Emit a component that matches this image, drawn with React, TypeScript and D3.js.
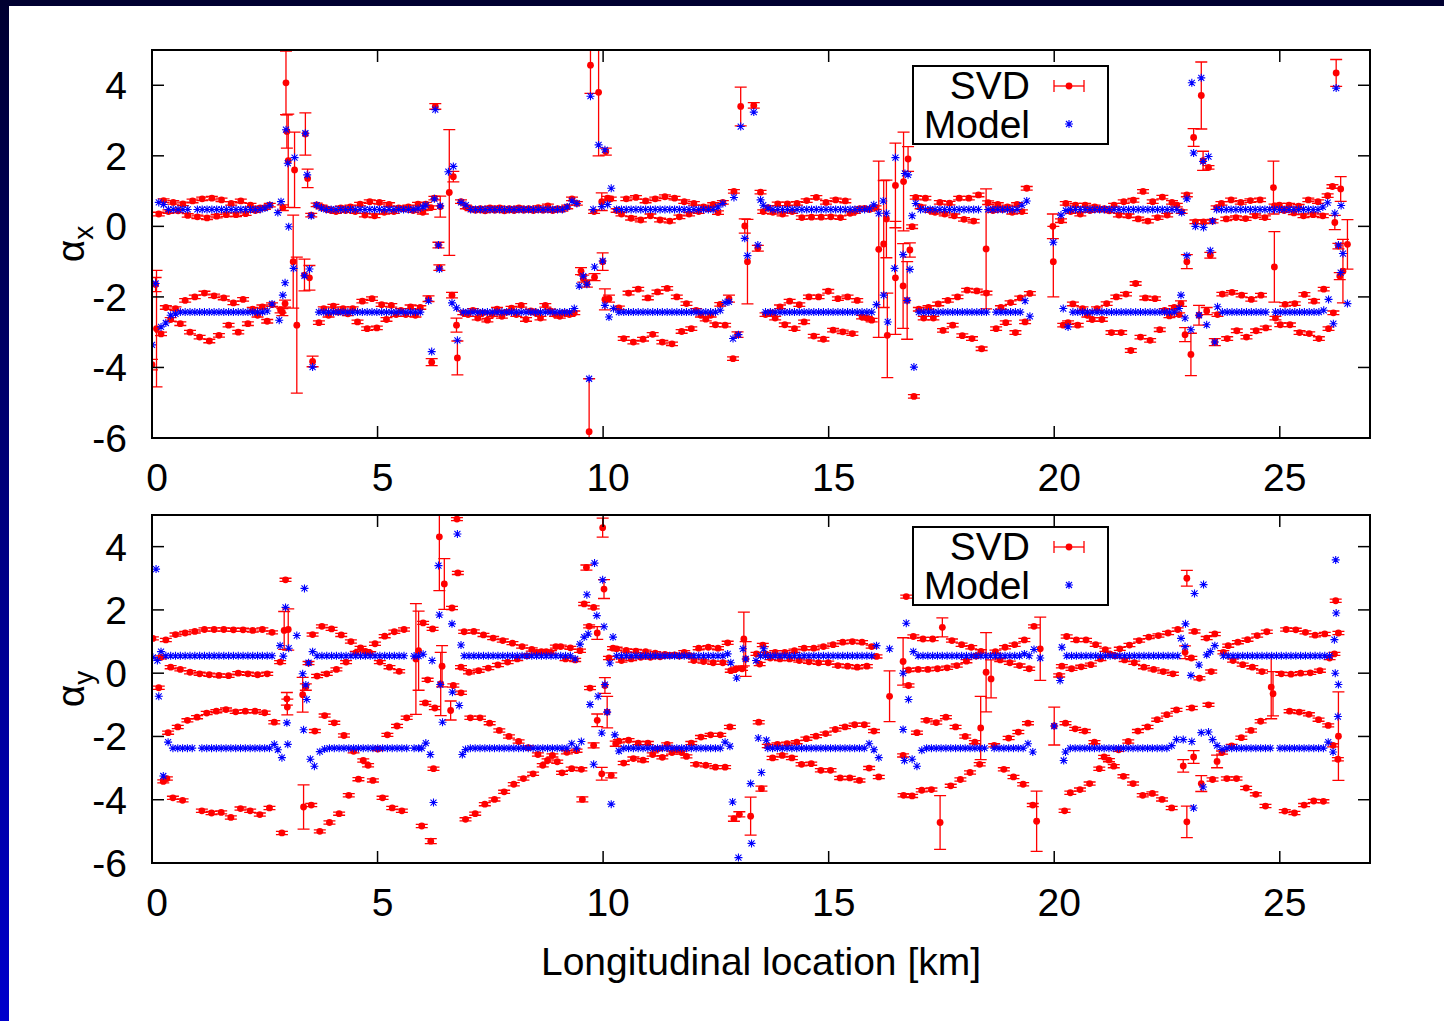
import React from 'react';
import * as d3 from 'd3';

// ---------- axes ----------
const X_DOMAIN = [0, 27];
const Y_DOMAIN = [-6, 5];
const X_TICKS = [0, 5, 10, 15, 20, 25];
const Y_TICKS = [-6, -4, -2, 0, 2, 4];
const BPM_STEP = 0.107; // km between arc BPMs of one band
const ARC_ERR = 0.05;

// ---------- alpha_x : arc BPMs, upper band ----------
const AX_U_START = [0.15, 3.65, 6.85, 10.3, 13.55, 16.93, 20.15, 23.6];
const AX_U_SVD = [
  [0.35,0.73,0.42,0.68,0.44,0.64,0.31,0.72,0.27,0.78,0.24,0.80,0.29,0.75,0.33,0.65,0.33,0.72,0.36,0.60,0.45,0.52,0.53,0.60],
  [0.61,0.55,0.50,0.45,0.42,0.52,0.45,0.55,0.42,0.63,0.32,0.70,0.30,0.68,0.40,0.62,0.42,0.52,0.50,0.55,0.45,0.63,0.40],
  [0.70,0.55,0.50,0.46,0.50,0.44,0.52,0.46,0.52,0.44,0.50,0.45,0.52,0.46,0.50,0.45,0.53,0.46,0.58,0.45,0.50,0.48,0.55,0.78,0.65],
  [0.45,0.35,0.78,0.23,0.82,0.18,0.72,0.30,0.78,0.18,0.84,0.15,0.80,0.27,0.70,0.35,0.65,0.42,0.55,0.50,0.62,0.39,0.68],
  [0.42,0.53,0.40,0.64,0.35,0.64,0.42,0.65,0.25,0.73,0.26,0.82,0.26,0.68,0.27,0.75,0.25,0.72,0.37,0.42,0.50,0.51,0.48],
  [0.82,0.55,0.80,0.45,0.40,0.68,0.35,0.66,0.30,0.80,0.20,0.80,0.15,0.89,null,0.67,0.45,0.62,0.48,0.55,0.40,0.62,0.42,1.08],
  [0.16,0.65,0.42,0.60,0.35,0.60,0.45,0.55,0.48,0.50,0.44,0.60,0.32,0.70,0.30,0.74,0.21,0.99,0.15,0.70,0.25,0.83,0.32,0.68,0.60,0.42],
  [0.53,0.65,0.21,0.75,0.25,0.68,0.22,0.73,0.30,0.75,0.25,null,0.58,0.60,0.45,0.60,0.38,0.57,0.30,0.75,0.33,0.70,0.30,0.87,1.13],
];
const AX_U_MOD = [
  [0.68,0.62,0.48,0.48,0.48,0.48,0.48,null,0.48,0.48,0.48,0.48,0.48,0.48,0.48,0.48,0.48,0.48,0.48,0.48,0.48,0.48,0.52,0.60],
  [0.60,0.52,0.48,0.48,0.48,0.48,0.48,0.48,0.48,0.48,0.48,0.48,0.48,0.48,0.48,0.48,0.48,0.48,0.48,0.48,0.48,0.50,0.55],
  [0.68,0.60,0.48,0.48,0.48,0.48,0.48,0.48,0.48,0.48,0.48,0.48,0.48,0.48,0.48,0.48,0.48,0.48,0.48,0.48,0.48,0.48,0.55,0.72,0.65],
  [0.48,0.48,0.48,0.48,0.48,0.48,0.48,0.48,0.48,0.48,0.48,0.48,0.48,0.48,0.48,0.48,0.48,0.48,0.48,0.48,0.48,0.55,0.65],
  [0.60,0.52,0.48,0.48,0.48,0.48,0.48,0.48,0.48,0.48,0.48,0.48,0.48,0.48,0.48,0.48,0.48,0.48,0.48,0.48,0.48,0.48,0.50],
  [0.65,0.48,0.48,0.48,0.48,0.48,0.48,0.48,0.48,0.48,0.48,0.48,0.48,0.48,null,0.48,0.48,0.48,0.48,0.48,0.48,0.48,0.60,0.72],
  [0.32,0.45,0.48,0.48,0.48,0.48,0.48,0.48,0.48,0.48,0.48,0.48,0.48,0.48,0.48,0.48,0.48,0.48,0.48,0.48,0.48,0.48,0.48,0.48,0.48,0.39],
  [0.48,0.48,0.48,0.48,0.48,0.48,0.48,0.48,0.48,0.48,0.48,0.48,0.48,0.48,0.48,0.48,0.48,0.48,0.48,0.48,0.48,0.48,0.55,0.67],
];

// ---------- alpha_x : arc BPMs, lower band ----------
const AX_L_START = [0.2, 3.7, 6.9, 10.35, 13.6, 17.0, 20.2, 23.62];
const AX_L_SVD = [
  [-3.05,-2.30,-2.64,-2.33,-2.76,-2.10,-3.00,-2.00,-3.14,-1.89,-3.25,-1.97,-3.09,-2.03,-2.80,-2.17,-3.00,-2.07,-2.76,-2.35,-2.52,-2.28,-2.69,-2.22],
  [-2.73,-2.33,-2.52,-2.26,-2.43,-2.33,-2.48,-2.33,-2.71,-2.12,-2.90,-2.05,-2.88,-2.22,-2.64,-2.24,-2.50,-2.38,-2.50,-2.28,-2.52,-2.30],
  [-2.45,-2.50,-2.38,-2.60,-2.45,-2.66,-2.50,-2.35,-2.55,-2.43,-2.32,-2.50,-2.24,-2.64,-2.40,-2.45,-2.60,-2.24,-2.40,-2.50,-2.55,-2.45,-2.50,-2.45],
  [-2.31,-3.18,-1.89,-3.28,-1.78,-3.20,-2.03,-3.06,-1.86,-3.28,-1.76,-3.33,-2.00,-2.98,-2.19,-2.90,-2.38,-2.52,-2.63,-2.52,-2.79,-2.21,-2.80],
  [-2.50,-2.45,-2.60,-2.28,-2.79,-2.12,-2.90,-2.22,-2.71,-2.00,-3.11,-2.00,-3.20,-1.84,-2.94,-2.05,-2.99,-2.00,-3.04,-2.10,-2.57,-2.60,-2.66],
  [-2.35,-2.60,-2.30,-2.60,-2.20,-2.95,-2.10,-2.80,-2.00,-3.10,-1.81,-3.18,-1.83,-3.47,-1.89,null,-2.90,-2.30,-2.73,-2.16,-3.01,-2.03,-2.71,-1.90],
  [-2.80,-2.73,-2.20,-2.80,-2.33,-2.52,-2.64,-2.33,-2.64,-2.19,-3.01,-2.00,-3.01,-1.92,-3.52,-1.62,-3.14,-2.03,-3.23,-2.05,-2.93,-2.38,-2.54,-2.30,-2.50],
  [-2.50,-1.92,-3.18,-1.87,-2.96,-1.95,-3.14,-2.07,-2.96,-1.95,-2.88,null,-2.60,-2.79,-2.21,-2.79,-2.19,-3.01,-1.93,-3.04,-2.12,-3.18,-1.78,-2.90,-2.45],
];
const AX_L_MOD = [
  [-2.85,-2.74,-2.52,-2.48,-2.43,-2.43,-2.43,-2.43,-2.43,-2.43,-2.43,-2.43,-2.43,-2.43,-2.43,-2.43,-2.43,-2.43,-2.43,-2.43,-2.43,-2.43,-2.40,-2.20],
  [-2.43,-2.43,-2.43,-2.43,-2.43,-2.43,-2.43,-2.43,-2.43,-2.43,-2.43,-2.43,-2.43,-2.43,-2.43,-2.43,-2.43,-2.43,-2.43,-2.43,-2.43,-2.43],
  [-2.43,-2.43,-2.43,-2.43,-2.43,-2.43,-2.43,-2.43,-2.43,-2.43,-2.43,-2.43,-2.43,-2.43,-2.43,-2.43,-2.43,-2.43,-2.43,-2.43,-2.43,-2.43,-2.43,-2.33],
  [-2.43,-2.43,-2.43,-2.43,-2.43,-2.43,-2.43,-2.43,-2.43,-2.43,-2.43,-2.43,-2.43,-2.43,-2.43,-2.43,-2.43,-2.43,-2.43,-2.43,-2.43,-2.38,-2.16],
  [-2.43,-2.43,-2.43,-2.43,-2.43,-2.43,-2.43,-2.43,-2.43,-2.43,-2.43,-2.43,-2.43,-2.43,-2.43,-2.43,-2.43,-2.43,-2.43,-2.43,-2.43,-2.43,-2.43],
  [-2.43,-2.43,-2.43,-2.43,-2.43,-2.43,-2.43,-2.43,-2.43,-2.43,-2.43,-2.43,-2.43,-2.43,-2.43,null,-2.43,-2.43,-2.43,-2.43,-2.43,-2.43,-2.11,-2.55],
  [-2.33,-2.85,-2.43,-2.43,-2.43,-2.43,-2.43,-2.43,-2.43,-2.43,-2.43,-2.43,-2.43,-2.43,-2.43,-2.43,-2.43,-2.43,-2.43,-2.43,-2.43,-2.43,-2.43,-2.43,-2.33],
  [-2.28,-2.43,-2.43,-2.43,-2.43,-2.43,-2.43,-2.43,-2.43,-2.43,-2.43,null,-2.43,-2.43,-2.43,-2.43,-2.43,-2.43,-2.43,-2.43,-2.43,-2.43,-2.38,-2.07,-2.76],
];

// ---------- alpha_x : insertion-region BPMs [km, value, error] ----------
const AX_IR_SVD = [
  [0.00,-3.92,0.15],[0.10,-2.90,1.65],[0.08,-1.65,0.2],
  [2.90,0.53,0.08],[2.97,4.07,0.9],[2.99,2.69,0.47],[3.02,1.86,1.32],[3.16,1.60,1.07],[3.13,-1.00,1.32],[3.21,-2.80,1.93],
  [2.85,-2.37,0.08],[2.89,-2.43,0.1],[2.95,-2.19,0.1],[3.40,2.62,0.6],[3.45,1.36,0.26],[3.53,0.32,0.05],[3.38,-1.38,0.45],
  [3.49,-1.46,0.35],[3.56,-3.83,0.15],
  [6.07,0.63,0.05],[6.18,0.53,0.05],[6.26,0.80,0.05],[6.39,0.56,0.3],[6.13,-2.05,0.08],[6.20,-3.85,0.1],[6.28,3.40,0.08],
  [6.35,-0.53,0.08],[6.37,-1.17,0.08],[6.59,0.96,1.78],[6.68,1.41,0.15],[6.65,-1.95,0.08],[6.75,-2.80,0.2],[6.77,-3.73,0.48],
  [9.72,4.57,0.8],[9.90,3.80,1.8],[10.06,2.12,0.1],[10.10,0.80,0.05],[10.17,0.78,0.05],[9.97,0.70,0.25],[9.80,0.42,0.05],
  [9.51,-1.27,0.1],[9.56,-1.48,0.1],[9.64,-1.62,0.1],[9.81,-1.44,0.1],[9.99,-1.00,0.25],[9.69,-5.82,1.5],[10.04,-2.07,0.3],[10.13,-2.05,0.1],
  [12.90,0.99,0.05],[13.05,3.40,0.55],[13.34,3.43,0.08],[13.49,0.97,0.05],[13.14,0.01,0.2],[13.20,-1.00,1.2],[13.43,-0.62,0.08],
  [12.88,-3.75,0.05],[12.98,-3.07,0.08],[12.79,-2.05,0.1],
  [16.04,0.53,0.05],[16.11,-0.65,2.5],[16.22,-0.50,1.8],[16.28,0.21,1.1],[16.30,-3.09,1.2],[16.48,1.16,1.2],[16.48,-1.46,1.6],
  [16.66,1.27,1.4],[16.76,1.91,0.35],[16.65,-1.69,1.2],[16.74,-2.10,1.1],[16.80,-0.67,0.2],[16.85,-0.01,0.05],[16.89,-4.82,0.05],
  [18.49,-0.64,1.7],[19.97,0.00,0.35],[19.98,-1.00,1.0],
  [22.94,0.89,0.05],[23.26,3.71,0.95],[23.09,2.52,0.25],[23.30,1.86,0.27],[23.42,1.67,0.05],[23.13,0.13,0.05],[23.31,0.13,0.05],
  [23.51,0.15,0.05],[22.94,-1.00,0.2],[23.46,-0.82,0.08],[22.81,-2.19,0.08],[22.90,-3.07,0.2],[23.03,-3.63,0.6],[23.21,-2.52,0.28],
  [23.38,-2.40,0.1],[23.56,-3.28,0.1],
  [24.86,1.10,0.75],[24.88,-1.15,1.0],
  [26.25,4.35,0.38],[26.35,1.06,0.35],[26.22,0.11,0.2],[26.30,-0.56,0.08],[26.33,-1.41,0.1],[26.40,-1.27,0.9],[26.50,-0.51,0.7],
];
const AX_IR_MOD = [
  [0.00,-3.36],[0.08,-1.62],
  [2.79,0.39],[2.86,0.70],[2.97,2.74],[3.01,1.79],[3.03,-0.01],[3.16,1.95],[3.14,-1.19],[2.95,-1.60],[2.90,-1.95],[2.82,-2.66],
  [3.40,2.64],[3.44,1.46],[3.53,0.30],[3.38,-1.40],[3.49,-1.21],[3.56,-3.99],
  [6.07,0.60],[6.26,0.78],[6.39,0.58],[6.13,-2.11],[6.20,-3.55],[6.28,3.31],[6.35,-0.53],[6.37,-1.21],[6.57,1.55],[6.68,1.70],
  [6.65,-2.17],[6.75,-2.31],[6.77,-3.23],
  [9.72,3.69],[9.90,2.31],[10.04,2.17],[10.18,1.08],[9.97,0.56],[10.10,0.62],[9.78,0.48],[9.47,-1.69],[9.56,-1.41],[9.64,-1.64],
  [9.81,-1.15],[9.99,-0.98],[9.69,-4.32],[10.04,-2.24],[10.13,-2.57],[10.23,-2.33],
  [12.90,0.82],[13.05,2.83],[13.34,3.24],[13.49,0.75],[13.14,-0.34],[13.20,-0.83],[13.43,-0.53],[12.88,-3.18],[13.00,-3.07],[12.79,-2.14],
  [16.00,0.61],[16.11,0.37],[16.06,-2.22],[16.21,0.72],[16.28,0.37],[16.22,-1.95],[16.31,-2.71],[16.48,1.95],[16.46,-1.19],
  [16.69,1.50],[16.76,1.46],[16.65,-0.80],[16.74,-2.10],[16.80,-1.22],[16.85,0.30],[16.89,-3.99],
  [19.98,-0.45],
  [22.94,0.78],[23.05,4.07],[23.26,4.21],[23.09,2.08],[23.30,1.84],[23.42,1.98],[23.13,0.00],[23.31,-0.03],[23.51,0.15],
  [22.94,-0.83],[23.46,-0.69],[22.81,-1.95],[22.90,-2.60],[23.03,-2.93],[23.21,-2.52],[23.38,-2.79],[23.56,-3.28],
  [26.25,3.92],[26.36,0.59],[26.22,0.37],[26.30,-0.53],[26.40,-0.77],[26.35,-1.31],[26.50,-2.19],
];

// ---------- alpha_y : arc BPMs, upper band ----------
const AY_U_START = [0.2, 3.66, 6.92, 10.3, 13.6, 16.77, 20.17, 23.75];
const AY_U_SVD = [
  [0.50,1.05,0.19,1.22,0.12,1.27,0.03,1.32,-0.02,1.38,-0.05,1.38,-0.07,1.38,-0.08,1.37,0.00,1.37,-0.02,1.35,-0.05,1.38,-0.02,1.29],
  [-0.09,1.48,-0.02,1.40,0.12,1.21,0.35,1.00,0.64,0.80,0.69,0.63,0.93,0.35,1.17,0.19,1.31,0.06,1.38],
  [1.31,0.03,1.32,0.08,1.21,0.16,1.11,0.26,1.03,0.35,0.95,0.45,0.84,0.55,0.75,0.66,0.68,0.68,0.66,0.84,0.84,0.45,0.80,0.42,0.71],
  [0.77,0.40,0.72,0.45,0.70,0.50,0.68,0.50,0.63,0.52,0.59,0.56,0.58,0.54,0.66,0.56,0.40,0.79,0.37,0.82,0.33,0.79,0.33,0.96],
  [0.61,0.48,0.66,0.45,0.66,0.45,0.71,0.40,0.79,0.36,0.79,0.33,0.84,0.33,0.90,0.24,0.98,0.22,1.00,0.19,0.98,0.22,0.84,0.53],
  [0.10,1.16,0.12,1.08,0.12,1.08,0.14,null,0.17,1.03,0.24,0.90,0.38,0.82,0.54,0.69,null,null,0.68,0.42,0.82,0.33,0.90,0.24,1.05,0.14,1.48],
  [0.22,1.16,0.14,1.05,0.20,1.05,0.27,0.90,0.45,0.74,0.60,0.55,0.77,0.42,0.89,0.33,1.03,0.19,1.14,0.12,1.19,0.05,1.27,-0.02,1.38],
  [0.66,0.87,0.40,0.98,0.27,1.06,0.19,1.19,0.05,1.31,null,null,-0.02,1.38,-0.03,1.37,0.00,1.29,0.01,1.20,0.08,1.24,0.48,0.61],
];
const AY_U_MOD = [
  [0.68,0.55,0.55,0.55,0.55,0.55,0.55,0.55,0.55,0.55,0.55,0.55,0.55,0.55,0.55,0.55,0.55,0.55,0.55,0.55,0.55,0.55,0.55,0.55],
  [0.55,0.55,0.55,0.55,0.55,0.55,0.55,0.55,0.55,0.55,0.55,0.55,0.55,0.55,0.55,0.55,0.55,0.55,0.55],
  [0.55,0.55,0.55,0.55,0.55,0.55,0.55,0.55,0.55,0.55,0.55,0.55,0.55,0.55,0.55,0.55,0.55,0.55,0.55,0.55,0.55,0.55,0.55,0.45,0.92],
  [0.55,0.55,0.55,0.55,0.55,0.55,0.55,0.55,0.55,0.55,0.55,0.55,0.55,0.55,0.55,0.55,0.55,0.55,0.55,0.55,0.55,0.55,0.55,0.61],
  [0.55,0.55,0.55,0.55,0.55,0.55,0.55,0.55,0.55,0.55,0.55,0.55,0.55,0.55,0.55,0.55,0.55,0.55,0.55,0.55,0.55,0.55,0.55,0.87],
  [null,0.68,0.55,0.55,0.55,0.55,0.55,0.55,0.55,0.55,0.55,0.55,0.55,0.55,0.55,0.55,0.55,0.55,0.55,0.55,0.55,0.55,0.55,0.55,0.61,0.55,0.75],
  [0.82,0.55,0.55,0.55,0.55,0.55,0.55,0.55,0.55,0.55,0.55,0.55,0.55,0.55,0.55,0.55,0.55,0.55,0.55,0.55,0.55,0.55,0.55,0.55,0.55],
  [0.55,0.55,0.55,0.55,0.55,0.55,0.55,0.55,0.55,0.55,0.55,0.55,0.55,0.55,0.55,0.55,0.55,0.55,0.55,0.55,0.55,0.55,0.55,1.06],
];

// ---------- alpha_y : arc BPMs, lower band ----------
const AY_L_START = [0.25, 3.72, 6.95, 10.35, 13.65, 16.85, 20.25, 23.72];
const AY_L_SVD = [
  [-3.42,-1.88,-3.94,-1.70,-4.02,-1.49,null,-1.39,-4.35,-1.26,-4.42,-1.20,-4.40,-1.15,-4.56,-1.22,-4.28,-1.20,-4.35,-1.20,-4.47,-1.25,-4.26,-1.55],
  [-5.00,-1.34,-4.72,-1.57,-4.44,-1.97,-3.86,-2.47,-3.35,-2.76,-2.91,-3.39,-2.40,-3.94,-1.95,-4.26,-1.67,-4.35,-1.41],
  [-4.62,-1.41,-4.44,-1.41,-4.14,-1.58,-3.99,-1.81,-3.75,-2.00,-3.51,-2.16,-3.33,-2.35,-3.18,-2.57,-2.91,-2.76,-2.60,-2.80,-3.15,-2.50,-3.02,-2.45,-3.04],
  [-2.15,-2.84,-2.12,-2.70,-2.21,-2.75,-2.21,-2.57,-2.40,-2.66,-2.25,-2.51,-2.42,-2.51,-2.63,-2.21,-2.88,-2.02,-2.91,-1.95,-2.97,-1.95,-2.97,-1.70],
  [-2.30,-2.68,-2.25,-2.60,-2.23,-2.68,-2.18,-2.88,-2.07,-2.86,-1.99,-3.07,-1.91,-3.07,-1.78,-3.31,-1.70,-3.31,-1.63,-3.39,-1.63,-3.00,-1.83,-3.28],
  [-3.88,-1.88,-3.70,-1.49,-3.68,-1.56,null,-1.39,-3.56,-1.70,-3.36,-2.00,-3.14,-2.18,-2.88,null,null,-2.28,null,-3.04,-2.05,-3.28,-1.86,-3.51,-1.58,-4.17],
  [-1.58,-3.78,-1.76,-3.68,-1.83,-3.49,-2.18,-3.02,-2.65,-2.75,-2.94,-2.42,-3.26,-2.16,-3.49,-1.83,-3.86,-1.70,-3.80,-1.47,-3.99,-1.31,-4.26,-1.16],
  [-2.51,-3.33,-2.30,-3.33,-2.04,-3.63,-1.81,-3.83,-1.52,-4.20,null,null,null,-4.36,-1.20,-4.42,-1.23,-4.17,-1.30,-4.04,-1.47,-4.05,-1.65,-2.28,-2.72],
];
const AY_L_MOD = [
  [-3.25,-2.18,-2.37,-2.37,-2.37,-2.37,-2.37,null,-2.37,-2.37,-2.37,-2.37,-2.37,-2.37,-2.37,-2.37,-2.37,-2.37,-2.37,-2.37,-2.37,-2.37,-2.37,-2.25],
  [-2.48,-2.40,-2.37,-2.37,-2.37,-2.37,-2.37,-2.37,-2.37,-2.37,-2.37,-2.37,-2.37,-2.37,-2.37,-2.37,-2.37,-2.37,-2.37],
  [-2.41,-2.37,-2.37,-2.37,-2.37,-2.37,-2.37,-2.37,-2.37,-2.37,-2.37,-2.37,-2.37,-2.37,-2.37,-2.37,-2.37,-2.37,-2.37,-2.37,-2.37,-2.37,-2.23,-2.37,-2.16],
  [-2.46,-2.37,-2.37,-2.37,-2.37,-2.37,-2.37,-2.37,-2.37,-2.37,-2.37,-2.37,-2.37,-2.37,-2.37,-2.37,-2.37,-2.37,-2.37,-2.37,-2.37,-2.37,-2.18,-2.31],
  [-2.37,-2.37,-2.37,-2.37,-2.37,-2.37,-2.37,-2.37,-2.37,-2.37,-2.37,-2.37,-2.37,-2.37,-2.37,-2.37,-2.37,-2.37,-2.37,-2.37,-2.37,-2.23,-2.42,-2.67],
  [-2.72,-2.94,-2.44,-2.37,-2.37,-2.37,-2.37,-2.37,-2.37,-2.37,-2.37,-2.37,-2.37,-2.37,-2.37,-2.37,null,-2.37,-2.37,-2.37,-2.37,-2.37,-2.37,-2.37,-2.23,-2.49],
  [-2.49,-2.37,-2.37,-2.37,-2.37,-2.37,-2.37,-2.37,-2.37,-2.37,-2.37,-2.37,-2.37,-2.37,-2.37,-2.37,-2.37,-2.37,-2.37,-2.37,-2.37,-2.37,-2.29,-2.10],
  [-2.41,-2.37,-2.37,-2.37,-2.37,-2.37,-2.37,-2.37,-2.37,-2.37,-2.37,null,-2.37,-2.37,-2.37,-2.37,-2.37,-2.37,-2.37,-2.37,-2.37,-2.37,-2.18,-2.49,-1.37],
];

// ---------- alpha_y : insertion-region BPMs ----------
const AY_IR_SVD = [
  [0.02,1.10,0.05],[0.15,-0.46,0.05],[0.33,-3.33,0.05],
  [2.84,0.35,0.05],[2.93,1.35,0.6],[3.02,1.38,0.65],[2.96,2.95,0.05],[2.99,-0.81,0.2],[3.00,-1.07,0.25],[3.47,0.32,0.05],
  [3.34,-0.68,0.55],[3.41,-0.44,0.1],[3.56,1.22,0.05],[3.36,-4.23,0.7],[3.53,-4.17,0.05],[2.88,-5.05,0.05],[3.61,-1.83,0.05],
  [5.85,0.45,1.75],[5.91,0.71,1.25],[6.01,1.59,0.05],[6.22,1.40,0.05],[6.11,-0.21,0.05],[6.06,-0.94,0.05],[6.27,-1.10,0.05],
  [6.24,-3.02,0.05],[5.98,-4.83,0.05],[6.18,-5.31,0.08],[6.37,4.31,1.7],[6.48,2.82,0.8],[6.76,4.87,0.05],[6.78,3.17,0.05],
  [6.65,2.06,0.05],[6.43,0.22,0.65],[6.40,-0.34,1.0],[6.68,-0.39,0.05],[6.62,-1.18,0.3],[6.85,0.19,0.05],[6.85,-0.62,0.05],
  [9.58,2.19,0.05],[9.63,3.34,0.08],[9.79,2.08,0.05],[9.69,1.48,0.05],[9.87,1.27,0.2],[10.02,2.66,0.3],[9.99,4.60,0.3],
  [10.22,0.79,0.05],[10.13,0.48,0.05],[9.71,-0.47,0.05],[9.87,-1.49,0.2],[10.04,-0.39,0.25],[10.09,-1.23,0.5],[9.54,-3.99,0.08],
  [9.79,-2.28,0.08],[9.97,-3.18,0.2],[10.18,-3.23,0.08],[10.28,-2.23,0.08],
  [12.90,-4.60,0.08],[13.02,-4.46,0.08],[13.27,-4.52,0.6],[13.51,-3.65,0.08],[13.45,-1.55,0.05],[13.12,1.08,0.85],[13.16,0.45,0.55],
  [13.08,0.14,0.05],[12.83,0.08,0.05],[12.95,0.14,0.05],[13.40,0.61,0.05],[13.47,0.29,0.05],[13.54,0.89,0.05],
  [16.35,-0.73,0.8],[16.65,0.37,0.75],[16.72,2.42,0.05],[16.77,-0.39,0.05],[16.65,-2.60,0.05],[16.66,-3.86,0.05],[17.47,-4.72,0.85],
  [17.52,1.45,0.3],[18.49,0.03,1.25],[18.60,-0.18,0.6],[18.37,-1.73,1.0],
  [19.69,0.77,1.0],[19.61,-4.68,0.95],[20.00,-1.67,0.6],[20.11,-0.07,0.05],[20.23,-4.35,0.05],
  [22.94,3.00,0.25],[22.90,0.66,0.2],[23.04,0.48,0.05],[23.22,-0.16,0.05],[23.11,1.32,0.05],[23.38,1.11,0.05],[23.56,1.24,0.05],
  [23.48,0.05,0.05],[23.05,-1.10,0.05],[23.42,-1.00,0.05],[22.86,-2.93,0.2],[23.09,-2.65,0.2],[23.61,-2.79,0.2],[23.26,-3.49,0.25],
  [23.51,-3.36,0.05],[22.94,-4.70,0.5],
  [24.81,-0.44,1.0],[24.85,-0.65,0.7],
  [26.24,2.29,0.05],[26.30,1.27,0.05],[26.30,-1.99,1.4],
];
const AY_IR_MOD = [
  [0.09,3.29],[0.15,-0.73],[0.02,0.50],[0.12,0.40],
  [2.79,-2.42],[2.88,-2.67],[3.01,-2.25],[2.96,2.08],[3.03,0.79],[2.84,0.87],[2.91,0.54],[2.99,-1.57],[3.21,1.19],[3.38,2.68],
  [3.47,0.33],[3.34,-0.02],[3.41,-0.37],[3.43,-0.83],[3.56,0.68],[3.36,-1.79],[3.51,-2.72],[3.60,-2.94],
  [5.81,0.54],[5.91,0.54],[6.01,0.60],[6.21,0.40],[5.81,-2.37],[5.91,-2.37],[5.98,-2.37],[6.07,-2.21],[6.17,-2.57],[6.24,-4.09],
  [6.35,3.40],[6.37,1.84],[6.77,4.40],[6.65,1.56],[6.85,0.89],[6.39,-0.36],[6.44,-1.55],[6.66,-0.60],[6.81,-1.02],[6.88,-2.57],
  [9.81,3.48],[9.64,2.48],[9.86,1.82],[9.99,2.95],[9.67,1.24],[9.58,1.14],[10.02,1.47],[10.22,1.14],[10.15,0.32],[9.71,-0.99],
  [9.89,-0.73],[10.04,-0.36],[10.09,-1.23],[9.79,-2.88],[9.97,-1.89],[10.18,-4.14],[10.26,-1.95],
  [12.87,-4.07],[13.00,-5.83],[13.29,-5.38],[13.27,-3.49],[13.51,-3.14],[13.44,-2.05],[13.62,-2.12],[13.10,0.77],[13.16,0.45],
  [12.96,-0.15],[12.83,0.33],[13.39,0.40],[13.49,0.55],[13.56,0.77],
  [16.35,0.77],[16.72,1.58],[16.65,0.00],[16.77,-0.83],[16.68,-2.76],[16.65,-1.78],
  [19.69,0.48],[20.00,-1.67],[20.13,-0.23],[20.21,-2.76],
  [22.81,1.10],[22.91,1.56],[22.90,0.84],[23.03,-0.07],[23.11,2.52],[23.31,2.80],[23.21,0.26],[23.38,0.58],[23.46,0.68],
  [23.56,0.87],[22.86,-2.10],[23.05,-2.16],[23.26,-1.88],[23.42,-1.86],[23.51,-2.10],[23.61,-2.29],[23.30,-3.60],[23.09,-4.26],
  [26.24,3.58],[26.25,1.90],[26.23,0.00],[26.30,-0.36],
];

// ---------- layout (not data) ----------
const W = 1444, H = 1021;
const PL = 152, PR = 1370;
const FONT = "'Liberation Sans', Arial, Helvetica, sans-serif";
const FS = 39;

type Pt = [number, number, number];

function arcSvd(starts: number[], arcs: (number | null)[][]): Pt[] {
  const out: Pt[] = [];
  arcs.forEach((arc, a) => arc.forEach((v, i) => {
    if (v !== null) out.push([starts[a] + i * BPM_STEP, v, ARC_ERR]);
  }));
  return out;
}
function arcMod(starts: number[], arcs: (number | null)[][]): [number, number][] {
  const out: [number, number][] = [];
  arcs.forEach((arc, a) => arc.forEach((v, i) => {
    if (v !== null) out.push([starts[a] + i * BPM_STEP, v]);
  }));
  return out;
}

const STAR = 'M-4,0H4M0,-4V4M-3,-3L3,3M-3,3L3,-3';

function Panel(props: {
  top: number; bottom: number; id: string; sub: string;
  svd: Pt[]; model: [number, number][]; legTop: number;
}) {
  const { top, bottom, id, sub, svd, model, legTop } = props;
  const x = d3.scaleLinear().domain(X_DOMAIN).range([PL, PR]);
  const y = d3.scaleLinear().domain(Y_DOMAIN).range([bottom, top]);
  const cap = 6;
  const legX = 913, legW = 195, legH = 78;
  const r1 = legTop + 20, r2 = legTop + 58;
  return (
    <g>
      <defs>
        <clipPath id={id}>
          <rect x={PL} y={top} width={PR - PL} height={bottom - top} />
        </clipPath>
      </defs>
      <g clipPath={`url(#${id})`}>
        <g stroke="#ff0000" strokeWidth={1.3} fill="none">
          {svd.map((d, i) => {
            const px = x(d[0]);
            const y1 = y(d[1] + d[2]);
            const y2 = y(d[1] - d[2]);
            return (
              <path key={i} d={`M${px},${y1}V${y2}M${px - cap},${y1}H${px + cap}M${px - cap},${y2}H${px + cap}`} />
            );
          })}
        </g>
        <g fill="#ff0000">
          {svd.map((d, i) => (
            <circle key={i} cx={x(d[0])} cy={y(d[1])} r={3.4} />
          ))}
        </g>
        <g stroke="#0000ff" strokeWidth={1.1} fill="none">
          {model.map((d, i) => (
            <path key={i} transform={`translate(${x(d[0])},${y(d[1])})`} d={STAR} />
          ))}
        </g>
      </g>
      {/* frame */}
      <rect x={PL} y={top} width={PR - PL} height={bottom - top} fill="none" stroke="#000" strokeWidth={2} />
      <g stroke="#000" strokeWidth={1.5}>
        {X_TICKS.map((t) => (
          <g key={t}>
            <line x1={x(t)} x2={x(t)} y1={bottom} y2={bottom - 12} />
            <line x1={x(t)} x2={x(t)} y1={top} y2={top + 12} />
          </g>
        ))}
        {Y_TICKS.map((t) => (
          <g key={t}>
            <line x1={PL} x2={PL + 12} y1={y(t)} y2={y(t)} />
            <line x1={PR} x2={PR - 12} y1={y(t)} y2={y(t)} />
          </g>
        ))}
      </g>
      <g fontFamily={FONT} fontSize={FS} fill="#000">
        {X_TICKS.map((t) => (
          <text key={t} x={x(t) + 5} y={bottom + 53} textAnchor="middle">{t}</text>
        ))}
        {Y_TICKS.map((t) => (
          <text key={t} x={127} y={y(t) + 14} textAnchor="end">{t}</text>
        ))}
        <text transform={`translate(84,${(top + bottom) / 2}) rotate(-90)`} textAnchor="middle">
          α<tspan fontSize={28} dy={9}>{sub}</tspan>
        </text>
      </g>
      {/* legend */}
      <rect x={legX} y={legTop} width={legW} height={legH} fill="#fff" stroke="#000" strokeWidth={2} />
      <g fontFamily={FONT} fontSize={FS} fill="#000" textAnchor="end">
        <text x={1030} y={r1 + 13}>SVD</text>
        <text x={1030} y={r2 + 14}>Model</text>
      </g>
      <g stroke="#ff0000" strokeWidth={1.3}>
        <line x1={1054} x2={1084} y1={r1} y2={r1} />
        <line x1={1054} x2={1054} y1={r1 - 6} y2={r1 + 6} />
        <line x1={1084} x2={1084} y1={r1 - 6} y2={r1 + 6} />
      </g>
      <circle cx={1069} cy={r1} r={3.4} fill="#ff0000" />
      <path transform={`translate(1069,${r2})`} d={STAR} stroke="#0000ff" strokeWidth={1.1} fill="none" />
    </g>
  );
}

export default function App() {
  const axSvd = [...arcSvd(AX_U_START, AX_U_SVD), ...arcSvd(AX_L_START, AX_L_SVD), ...(AX_IR_SVD as Pt[])];
  const axMod = [...arcMod(AX_U_START, AX_U_MOD), ...arcMod(AX_L_START, AX_L_MOD), ...(AX_IR_MOD as [number, number][])];
  const aySvd = [...arcSvd(AY_U_START, AY_U_SVD), ...arcSvd(AY_L_START, AY_L_SVD), ...(AY_IR_SVD as Pt[])];
  const ayMod = [...arcMod(AY_U_START, AY_U_MOD), ...arcMod(AY_L_START, AY_L_MOD), ...(AY_IR_MOD as [number, number][])];
  return (
    <svg width={W} height={H} viewBox={`0 0 ${W} ${H}`} style={{ position: 'absolute', left: 0, top: 0 }}>
      <defs>
        <linearGradient id="bg" x1="0" y1="0" x2="0" y2="1">
          <stop offset="0" stopColor="#000030" />
          <stop offset="1" stopColor="#0000cc" />
        </linearGradient>
      </defs>
      <rect width={W} height={H} fill="url(#bg)" />
      <rect x={9} y={6} width={W - 9} height={H - 6} fill="#fff" />
      <Panel top={50} bottom={438} id="clipx" sub="x" svd={axSvd} model={axMod} legTop={66} />
      <Panel top={515} bottom={863} id="clipy" sub="y" svd={aySvd} model={ayMod} legTop={527} />
      <text x={761} y={975} textAnchor="middle" fontFamily={FONT} fontSize={FS} fill="#000">
        Longitudinal location [km]
      </text>
    </svg>
  );
}
